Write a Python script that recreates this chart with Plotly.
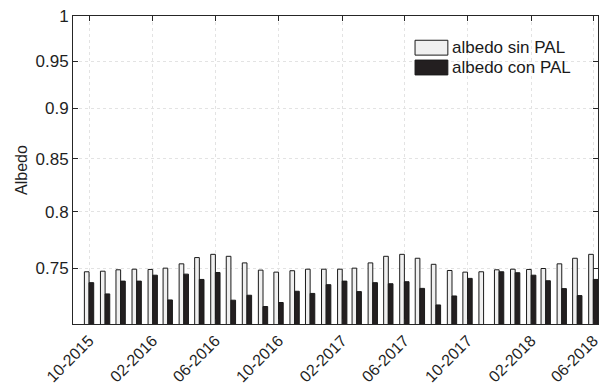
import plotly.graph_objects as go

months = ["2015-10-01", "2015-11-01", "2015-12-01", "2016-01-01", "2016-02-01", "2016-03-01",
          "2016-04-01", "2016-05-01", "2016-06-01", "2016-07-01", "2016-08-01", "2016-09-01",
          "2016-10-01", "2016-11-01", "2016-12-01", "2017-01-01", "2017-02-01", "2017-03-01",
          "2017-04-01", "2017-05-01", "2017-06-01", "2017-07-01", "2017-08-01", "2017-09-01",
          "2017-10-01", "2017-11-01", "2017-12-01", "2018-01-01", "2018-02-01", "2018-03-01",
          "2018-04-01", "2018-05-01", "2018-06-01"]

albedo_sin_pal = [0.7472, 0.7477, 0.7489, 0.7494, 0.7492, 0.7503, 0.7540, 0.7594, 0.7622, 0.7605,
                  0.7548, 0.7486, 0.7469, 0.7481, 0.7494, 0.7494, 0.7494, 0.7503, 0.7548, 0.7605,
                  0.7622, 0.7588, 0.7536, 0.7483, 0.7469, 0.7472, 0.7489, 0.7494, 0.7492, 0.7500,
                  0.7540, 0.7588, 0.7622]

albedo_con_pal = [0.7380, 0.7286, 0.7393, 0.7393, 0.7443, 0.7236, 0.7452, 0.7407, 0.7466, 0.7234,
                  0.7275, 0.7182, 0.7215, 0.7308, 0.7290, 0.7363, 0.7393, 0.7305, 0.7380, 0.7371,
                  0.7388, 0.7332, 0.7195, 0.7269, 0.7416, None, 0.7472, 0.7464, 0.7443, 0.7396,
                  0.7330, 0.7272, 0.7407]

y_tick_vals = [0.75, 0.8, 0.85, 0.9, 0.95, 1.0]
y_tick_text = ["0.75", "0.8", "0.85", "0.9", "0.95", "1"]
series_names = ["albedo sin PAL", "albedo con PAL"]

FONT = "Liberation Sans, Arial, sans-serif"
DAY = 86400000
bw = 9 * DAY

fig = go.Figure()
fig.add_trace(go.Bar(x=months, y=albedo_sin_pal, name=series_names[0],
                     width=bw, offset=-bw,
                     marker=dict(color="#f0f0f0", line=dict(color="#1a1a1a", width=1)),
                     showlegend=False))
fig.add_trace(go.Bar(x=months, y=albedo_con_pal, name=series_names[1],
                     width=bw, offset=0,
                     marker=dict(color="#231f20", line=dict(color="#1a1a1a", width=1)),
                     showlegend=False))

# custom legend (MATLAB-like wide swatches)
def px2paper_x(px):
    return (px - 73) / 528.0

def px2paper_y(py):
    return 1 - (py - 15) / 311.0

swatches = [("#f0f0f0", 39.5, 54.5), ("#231f20", 59.5, 74.5)]
for (col, y0, y1), name in zip(swatches, series_names):
    fig.add_shape(type="rect", xref="paper", yref="paper",
                  x0=px2paper_x(417), x1=px2paper_x(450),
                  y0=px2paper_y(y1), y1=px2paper_y(y0),
                  fillcolor=col, line=dict(color="#1a1a1a", width=1))
    fig.add_annotation(xref="paper", yref="paper", x=px2paper_x(452),
                       y=px2paper_y((y0 + y1) / 2), text=name, showarrow=False,
                       xanchor="left", yanchor="middle",
                       font=dict(family=FONT, size=17, color="#1a1a1a"))

fig.update_layout(
    width=608, height=392,
    margin=dict(l=73, r=7, t=15, b=66),
    paper_bgcolor="white", plot_bgcolor="white",
    barmode="overlay",
    font=dict(family=FONT, size=17, color="#262626"),
)
fig.update_xaxes(
    type="date", range=["2015-08-31", "2018-06-10"],
    tickmode="linear", tick0="2015-10-01", dtick="M4", tickformat="%m-%Y",
    tickangle=-45, ticks="inside", ticklen=5, tickcolor="#262626",
    showline=True, linecolor="#262626", linewidth=1, mirror="ticks",
    showgrid=True, gridcolor="#e3e3e3", griddash="dot", gridwidth=1,
    tickfont=dict(family=FONT, size=16, color="#1f1f1f"),
)
fig.update_yaxes(
    type="log", range=[-0.1524, 0],
    tickmode="array", tickvals=y_tick_vals, ticktext=y_tick_text,
    ticks="inside", ticklen=5, tickcolor="#262626",
    showline=True, linecolor="#262626", linewidth=1, mirror="ticks",
    showgrid=True, gridcolor="#e3e3e3", griddash="dot", gridwidth=1,
    tickfont=dict(family=FONT, size=17, color="#1f1f1f"),
    title=dict(text="Albedo", standoff=3, font=dict(family=FONT, size=16, color="#1f1f1f")),
)

fig.write_html("out.html")
